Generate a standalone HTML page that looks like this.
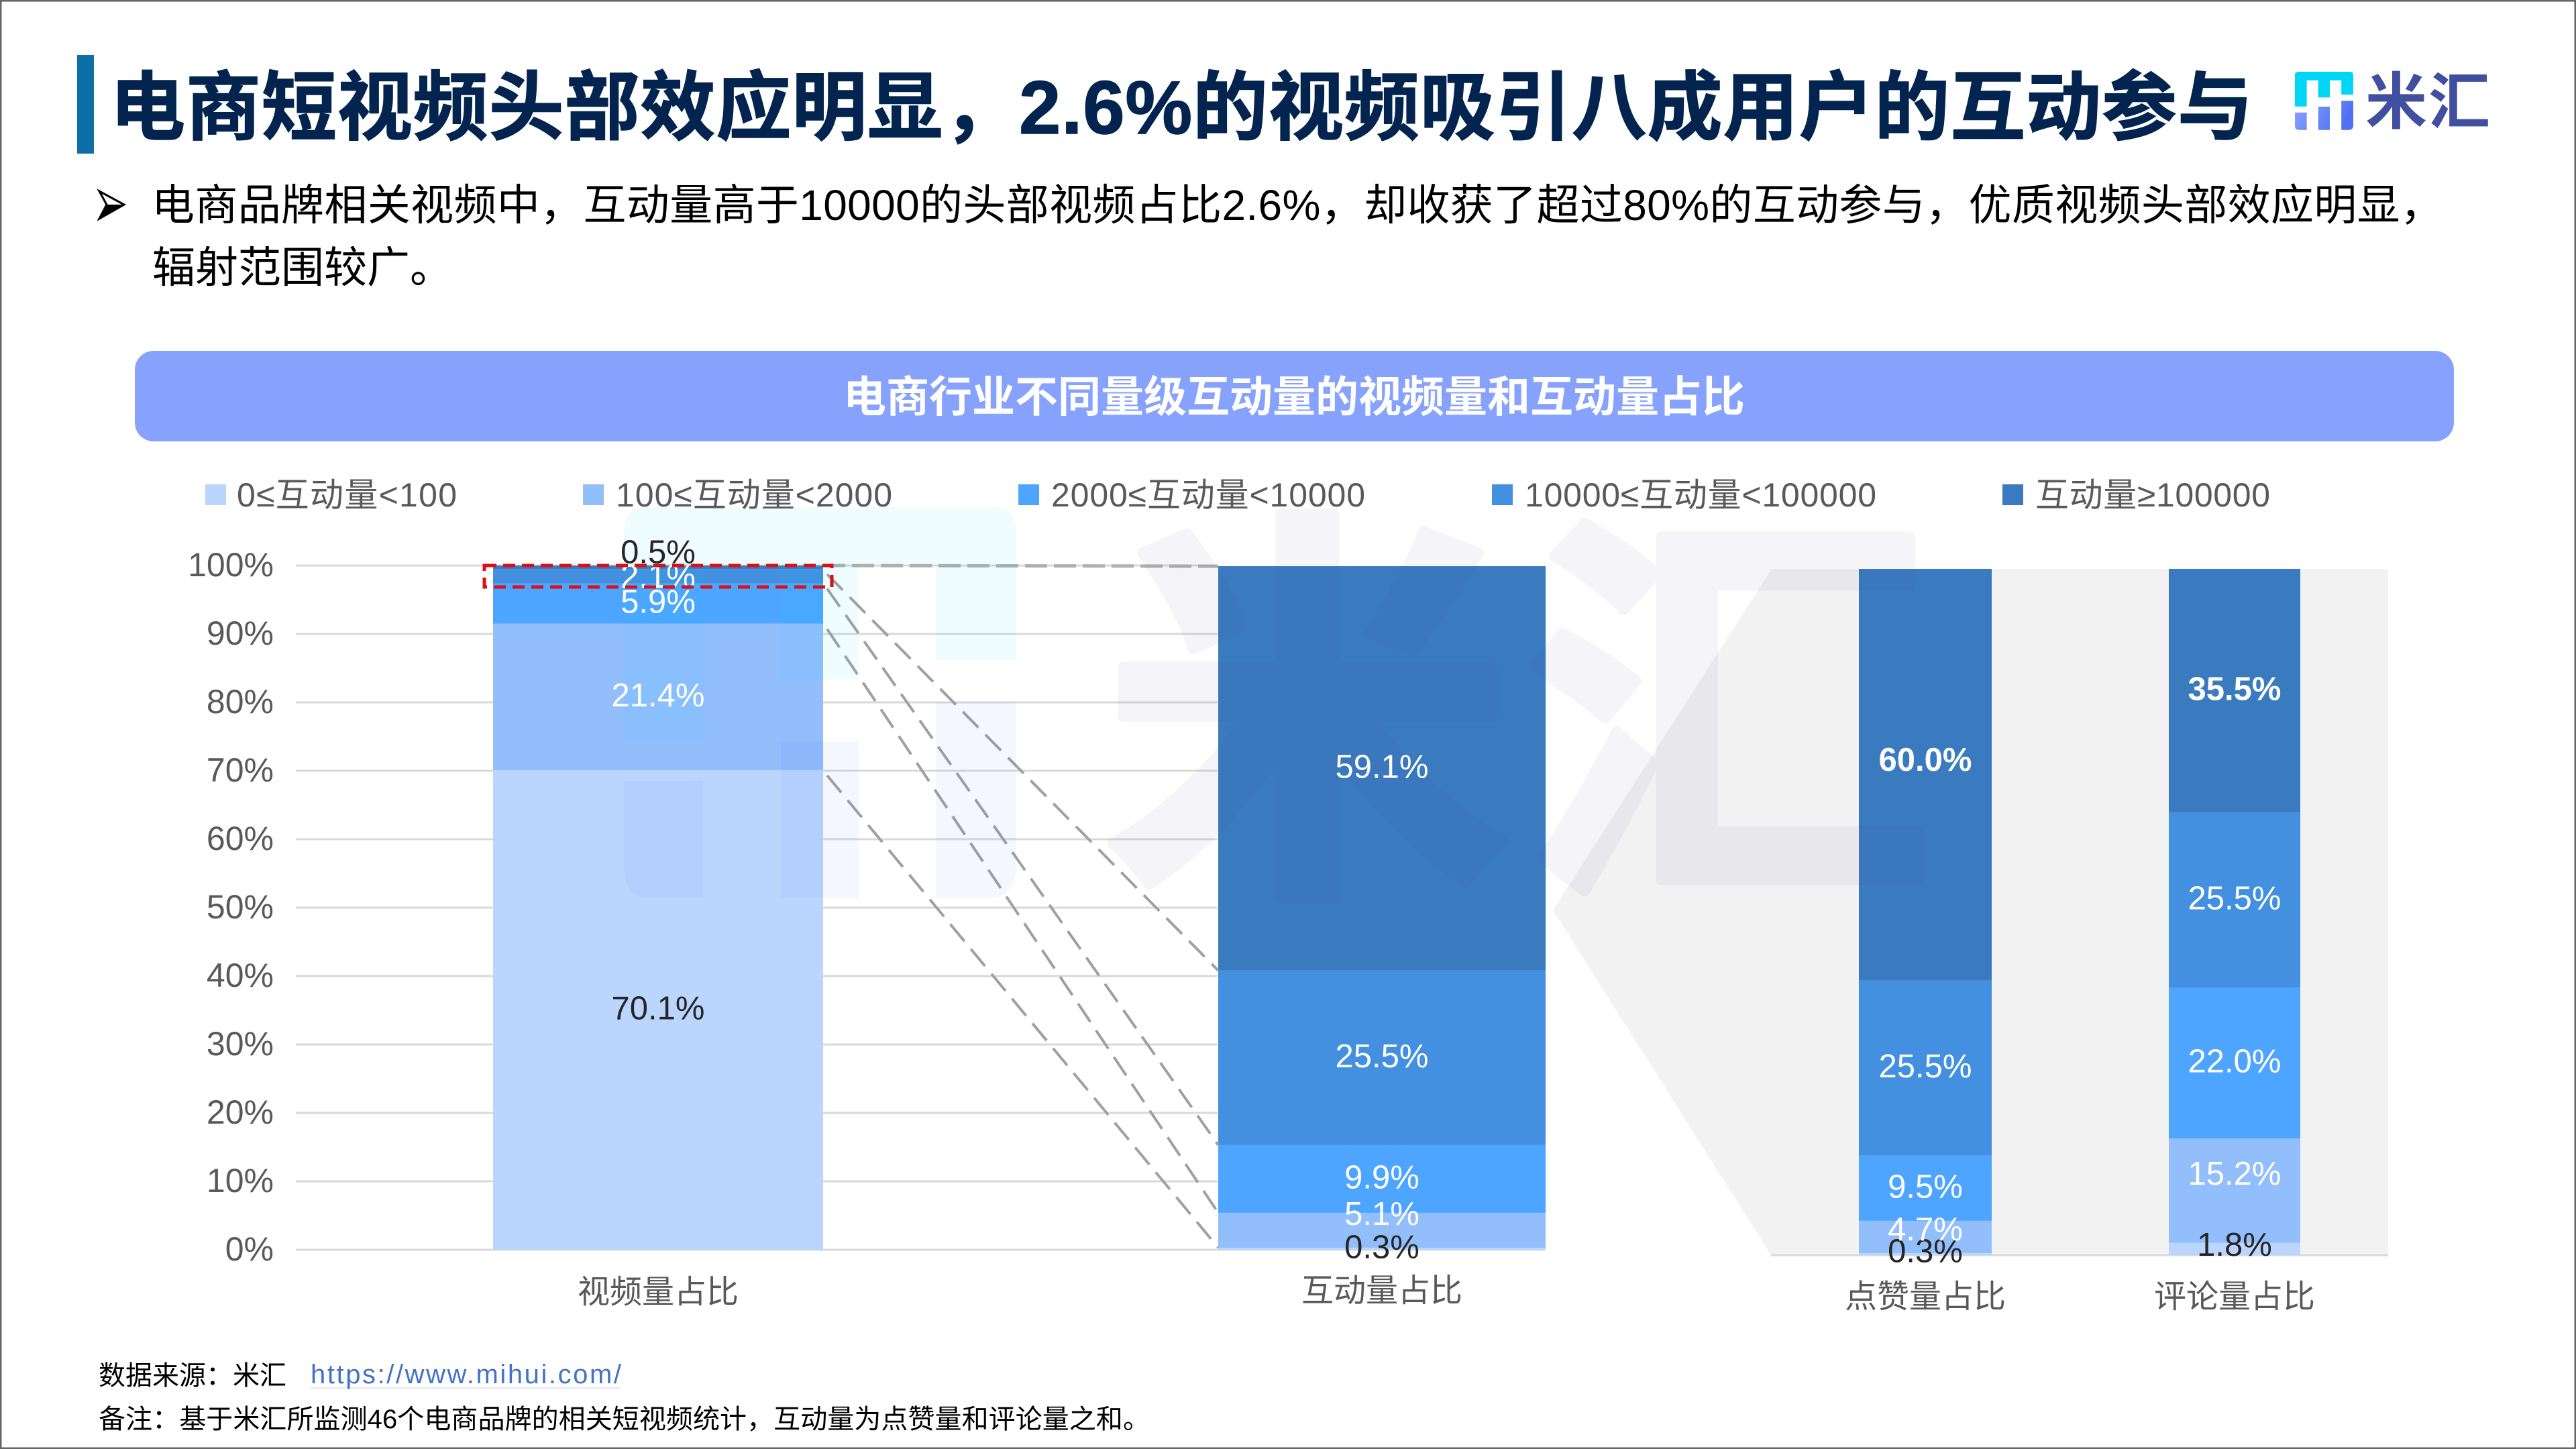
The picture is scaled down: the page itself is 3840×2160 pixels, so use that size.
<!DOCTYPE html>
<html lang="zh-CN">
<head>
<meta charset="utf-8">
<title>电商短视频头部效应明显</title>
<style>
html,body{margin:0;padding:0;background:#fff;width:3840px;height:2160px;overflow:hidden}
svg{display:block}
text{font-family:"Liberation Sans","Noto Sans CJK SC",sans-serif}
</style>
</head>
<body>
<svg id="slide" xmlns="http://www.w3.org/2000/svg" width="3840" height="2160" viewBox="0 0 3840 2160">
  <defs>
    <linearGradient id="logoLow" x1="0" y1="0" x2="1" y2="0.3">
      <stop offset="0" stop-color="#8aa3ff"/>
      <stop offset="1" stop-color="#4f70f2"/>
    </linearGradient>
  </defs>
  <rect x="0" y="0" width="3840" height="2160" fill="#ffffff"/>

  <rect x="115" y="82" width="25" height="147" fill="#0b6fa8"/>
  <text x="164" y="199" font-size="112" font-weight="700" fill="#03244f" stroke="#03244f" stroke-width="1.5" textLength="3194">电商短视频头部效应明显，2.6%的视频吸引八成用户的互动参与</text>

  <g>
    <g transform="translate(3421,107)">
      <path d="M5 0H82Q87 0 87 5V34H69.2V12.7H52V38.3H34.8V12.7H17.6V51.7H0V5Q0 0 5 0Z" fill="#00d6f5"/>
      <path d="M0 60.7H17.6V86.7H6Q0 86.7 0 80ZM34.8 52H52V86.7H34.8ZM69.2 43.3H87V80Q87 86.7 80 86.7H69.2Z" fill="url(#logoLow)"/>
    </g>
    <text x="3526" y="184" font-size="92" font-weight="700" fill="#404f9f" textLength="186">米汇</text>
  </g>

  <g>
    <path d="M148 285L185 305L148 326L159 305Z" fill="#ffffff" stroke="#000000" stroke-width="3"/>
    <path d="M159 305L185 305L148 326Z" fill="#000000"/>
  </g>
  <text x="226" y="328" font-size="64" fill="#000000" textLength="3416">电商品牌相关视频中，互动量高于10000的头部视频占比2.6%，却收获了超过80%的互动参与，优质视频头部效应明显，</text>
  <text x="227" y="421" font-size="64" fill="#000000">辐射范围较广。</text>

  <rect x="201" y="523" width="3457" height="135" rx="28" ry="28" fill="#87a2fc"/>
  <text x="1929" y="614" font-size="64" font-weight="700" fill="#ffffff" text-anchor="middle">电商行业不同量级互动量的视频量和互动量占比</text>

  <polygon points="2641,848 3560,848 3560,1871 2640,1871 2315,1357" fill="#f2f2f2"/>

  <g id="legend"></g>
  <g id="grid"></g>
  <g id="yaxis"></g>
  <line x1="2640" y1="1871" x2="3560" y2="1871" stroke="#d9d9d9" stroke-width="3"/>
  <g id="bars"></g>
  <g id="connectors"></g>

  <g opacity="0.06">
    <g transform="translate(930,756) scale(6.72)">
      <path d="M5 0H82Q87 0 87 5V34H69.2V12.7H52V38.3H34.8V12.7H17.6V51.7H0V5Q0 0 5 0Z" fill="#00d6f5"/>
      <path d="M0 60.7H17.6V86.7H6Q0 86.7 0 80ZM34.8 52H52V86.7H34.8ZM69.2 43.3H87V80Q87 86.7 80 86.7H69.2Z" fill="#4f70f2"/>
    </g>
    <text x="1644" y="1284" font-size="610" font-weight="700" fill="#404f9f" stroke="#404f9f" stroke-width="16" stroke-linejoin="round" textLength="1236">米汇</text>
  </g>

  <g id="labels"></g>
  <g id="xaxis"></g>

  <rect x="722" y="843" width="518" height="32" fill="none" stroke="#dc0f18" stroke-width="5" stroke-dasharray="18 10"/>

  <text x="147" y="2064" font-size="40" fill="#000000">数据来源：米汇</text>
  <text x="463" y="2062" font-size="40" fill="#4472c4" textLength="463">https://www.mihui.com/</text>
  <line x1="463" y1="2069" x2="926" y2="2069" stroke="#4472c4" stroke-width="2" opacity="0.15"/>
  <text x="147" y="2129" font-size="40" fill="#000000" textLength="1567">备注：基于米汇所监测46个电商品牌的相关短视频统计，互动量为点赞量和评论量之和。</text>

  <rect x="1" y="1" width="3838" height="2158" fill="none" stroke="#666666" stroke-width="3"/>
</svg>

<script>
const categories = ['视频量占比', '互动量占比', '点赞量占比', '评论量占比'];
const legendLabels = ['0≤互动量<100', '100≤互动量<2000', '2000≤互动量<10000', '10000≤互动量<100000', '互动量≥100000'];
const band0to100 = [70.1, 0.3, 0.3, 1.8];
const band100to2000 = [21.4, 5.1, 4.7, 15.2];
const band2000to10000 = [5.9, 9.9, 9.5, 22.0];
const band10000to100000 = [2.1, 25.5, 25.5, 25.5];
const bandOver100000 = [0.5, 59.1, 60.0, 35.5];
const yTicks = [0, 10, 20, 30, 40, 50, 60, 70, 80, 90, 100];

const NS = 'http://www.w3.org/2000/svg';
const bands = [band0to100, band100to2000, band2000to10000, band10000to100000, bandOver100000];
const bandColors = ['#bad5fe', '#92befc', '#4ea5ff', '#4390e1', '#3a7bc0'];

function make(parentId, tag, attrs, text) {
  const node = document.createElementNS(NS, tag);
  for (const k in attrs) node.setAttribute(k, attrs[k]);
  if (text !== undefined) node.textContent = text;
  document.getElementById(parentId).appendChild(node);
  return node;
}

/* axis functions */
function yLeft(v) { return 1863 - v * 10.2; }
function yRight(v) { return 1871 - v * 10.23; }
function yFor(i) { return i < 2 ? yLeft : yRight; }
function barLeft(i) { return i < 2 ? 735 + i * 1081 : 2771 + (i - 2) * 462; }
function barWidth(i) { return i === 0 ? 492 : i === 1 ? 488 : i === 2 ? 198 : 196; }
function barCenter(i) { return barLeft(i) + barWidth(i) / 2; }
function cumulative(i, upto) {
  let sum = 0;
  for (let b = 0; b <= upto; b++) sum += bands[b][i];
  return sum;
}

/* legend */
const legendSwatchX = [306, 869, 1518, 2224, 2985];
const legendTextX = [353, 918, 1567, 2273, 3034];
const legendTextW = [328, 412, 468, 524, 350];
legendLabels.forEach(function (label, b) {
  const sw = make('legend', 'rect', { x: legendSwatchX[b], y: 722, width: 31, height: 31, fill: bandColors[b] });
  
  
  const t = make('legend', 'text', { x: legendTextX[b], y: 755, 'font-size': 50, fill: '#595959', textLength: legendTextW[b] }, label);
  
  
});

/* gridlines and y tick labels */
yTicks.forEach(function (v) {
  const g = make('grid', 'line', { x1: 441, x2: 1815, y1: yLeft(v), y2: yLeft(v), stroke: '#d9d9d9', 'stroke-width': 3 });
  
  
  const t = make('yaxis', 'text', { x: 408, y: yLeft(v) + 16, 'font-size': 50, fill: '#595959', 'text-anchor': 'end' }, v + '%');
  
  
});
const baseExtension = make('grid', 'line', { x1: 1815, x2: 2303, y1: yLeft(0), y2: yLeft(0), stroke: '#d9d9d9', 'stroke-width': 3 });



/* bars and data labels */
const nudge = { '0,4': -20, '0,3': 3, '1,1': -22, '2,0': -2, '2,1': -9, '2,4': -20, '3,1': -23, '3,0': -4 };
const xLabelY = [1942, 1940, 1949, 1949];
categories.forEach(function (name, i) {
  const y = yFor(i);
  bands.forEach(function (values, b) {
    const low = cumulative(i, b) - values[i];
    const high = cumulative(i, b);
    const seg = make('bars', 'rect', {
      x: barLeft(i), y: y(high), width: barWidth(i), height: y(low) - y(high), fill: bandColors[b]
    });
    
    

    const dark = b === 0 || (i === 0 && b === 4);
    const bold = b === 4 && i >= 2;
    const offset = nudge[i + ',' + b] || 0;
    const label = make('labels', 'text', {
      x: barCenter(i), y: y((low + high) / 2) + offset + 14, 'font-size': 49,
      fill: dark ? '#262626' : '#ffffff', 'font-weight': bold ? 700 : 400, 'text-anchor': 'middle'
    }, values[i].toFixed(1) + '%');
    
    
  });
  const xl = make('xaxis', 'text', { x: barCenter(i), y: xLabelY[i], 'font-size': 48, fill: '#595959', 'text-anchor': 'middle' }, name);
  
  
});

/* connector lines from the first bar to the second */
const topLine = make('connectors', 'line', {
  x1: barLeft(0) + barWidth(0), y1: yLeft(cumulative(0, 4)), x2: barLeft(1), y2: yLeft(cumulative(1, 4)),
  stroke: '#b0b0b0', 'stroke-width': 5, 'stroke-dasharray': '33 10'
});


for (let b = 3; b >= 0; b--) {
  const conn = make('connectors', 'line', {
    x1: barLeft(0) + barWidth(0) + 6, y1: yLeft(cumulative(0, b)) + 8, x2: barLeft(1), y2: yLeft(cumulative(1, b)),
    stroke: '#a0a0a0', 'stroke-width': 4, 'stroke-dasharray': '33 15'
  });
  
  
}
</script>
</body>
</html>
